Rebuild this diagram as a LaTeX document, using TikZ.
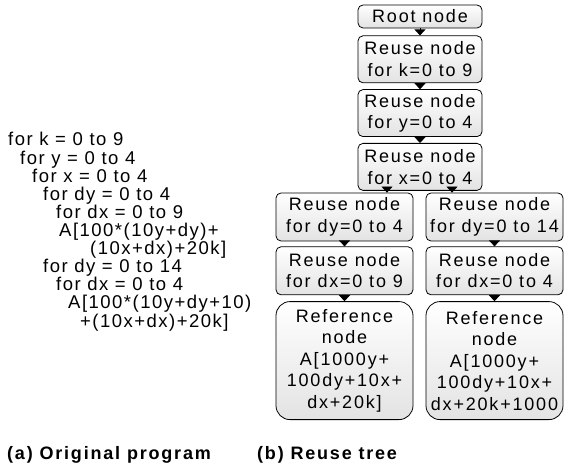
\documentclass[tikz,border=0pt]{standalone}
\usepackage{fontspec}
\setmainfont{Liberation Sans}
\newfontfamily\treefont{Liberation Sans}[LetterSpace=10]
\newfontfamily\codefont{Liberation Sans}[LetterSpace=8]
\newfontfamily\capfont{Liberation Sans}[LetterSpace=10]
\usetikzlibrary{arrows.meta, positioning}
\tikzset{
    box/.style={draw, thick, rounded corners=5pt, top color=white, bottom color=gray!22,
        align=center, inner sep=0pt, font=\treefont\fontsize{18}{21.5}\selectfont},
    reuse/.style={box, minimum width=124pt, minimum height=47pt},
    reusew/.style={box, minimum width=137pt, minimum height=48pt},
    refbox/.style={box, rounded corners=14pt, minimum width=137pt, minimum height=118pt},
    tip/.style={-{Triangle[width=11pt,length=6pt]}, thick},
    code/.style={anchor=base west, inner sep=0pt, font=\codefont\fontsize{18.5}{18}\selectfont},
    caption/.style={anchor=base west, inner sep=0pt, font=\capfont\bfseries\fontsize{18}{18}\selectfont}
}
\begin{document}
\begin{tikzpicture}[x=1pt, y=-1pt]
    \useasboundingbox (0,0) rectangle (571,468);
    % reuse tree
    \node[box, minimum width=124pt, minimum height=23pt] (root) at (420,16.5) {Root node};
    \node[reuse, below=7pt of root] (nk) {Reuse node\\for k=0 to 9};
    \node[reuse, below=6pt of nk] (ny) {Reuse node\\for y=0 to 4};
    \node[reuse, below=6pt of ny] (nx) {Reuse node\\for x=0 to 4};
    \node[reusew] (dyl) at (344.5,217) {Reuse node\\for dy=0 to 4};
    \node[reusew] (dyr) at (494.5,217) {Reuse node\\for dy=0 to 14};
    \node[reusew, below=5pt of dyl] (dxl) {Reuse node\\for dx=0 to 9};
    \node[reusew, below=5pt of dyr] (dxr) {Reuse node\\for dx=0 to 4};
    \node[refbox, below=6pt of dxl] (refl) {Reference\\node\\A[1000y+\\100dy+10x+\\dx+20k]};
    \node[refbox, below=6pt of dxr] (refr) {Reference\\node\\A[1000y+\\100dy+10x+\\dx+20k+1000};
    \draw[tip] (root) -- (nk);
    \draw[tip] (nk) -- (ny);
    \draw[tip] (ny) -- (nx);
    \draw[tip] ([xshift=-33pt]nx.south) -- ([xshift=42.5pt]dyl.north);
    \draw[tip] ([xshift=32pt]nx.south) -- ([xshift=-42.5pt]dyr.north);
    \draw[tip] (dyl) -- (dxl);
    \draw[tip] (dyr) -- (dxr);
    \draw[tip] (dxl) -- (refl);
    \draw[tip] (dxr) -- (refr);
    % original program
    \node[code] (l1) at (8,146) {for k = 0 to 9};
    \node[code] (l2) at (20,164.1) {for y = 0 to 4};
    \node[code] (l3) at (32,182.2) {for x = 0 to 4};
    \node[code] (l4) at (43,200.3) {for dy = 0 to 4};
    \node[code] (l5) at (56,218.4) {for dx = 0 to 9};
    \node[code] (l6) at (59,236.5) {A[100*(10y+dy)+};
    \node[code] (l7) at (90,254.6) {(10x+dx)+20k]};
    \node[code] (l8) at (43,272.7) {for dy = 0 to 14};
    \node[code] (l9) at (56,290.8) {for dx = 0 to 4};
    \node[code] (l10) at (68,308.9) {A[100*(10y+dy+10)};
    \node[code] (l11) at (80,327) {+(10x+dx)+20k]};
    % captions
    \node[caption] (capa) at (7,459) {(a) Original program};
    \node[caption] (capb) at (257,459) {(b) Reuse tree};
\end{tikzpicture}
\end{document}
